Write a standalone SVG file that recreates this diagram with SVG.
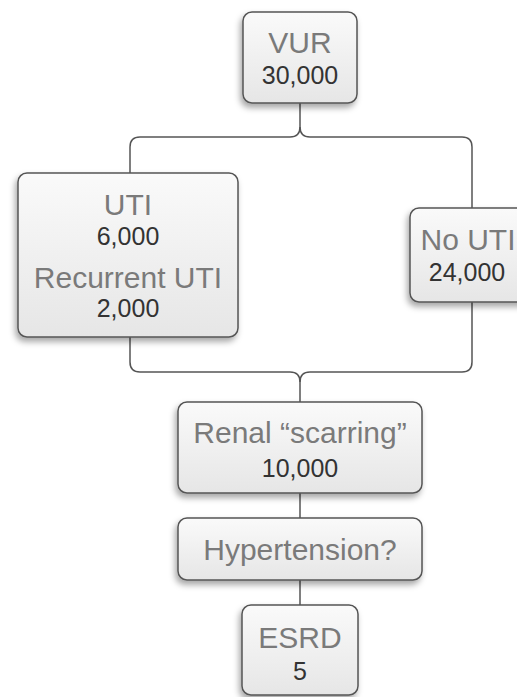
<svg xmlns="http://www.w3.org/2000/svg" width="517" height="697" viewBox="0 0 517 697">
<defs>
<linearGradient id="g" x1="0" y1="0" x2="0" y2="1">
<stop offset="0" stop-color="#fafafa"/>
<stop offset="1" stop-color="#e6e6e6"/>
</linearGradient>
<filter id="sh" x="-20%" y="-20%" width="140%" height="150%">
<feDropShadow dx="-2" dy="4" stdDeviation="3" flood-color="#000" flood-opacity="0.35"/>
</filter>
</defs>
<style>
.box{fill:url(#g);stroke:#555;stroke-width:1.5;filter:url(#sh)}
.lbl{font-family:"Liberation Sans",Arial,sans-serif;font-size:30px;fill:#7a7a7a;text-anchor:middle}
.num{font-family:"Liberation Sans",Arial,sans-serif;font-size:25px;fill:#333;text-anchor:middle}
.ln{fill:none;stroke:#555;stroke-width:1.5}
</style>
<rect width="517" height="697" fill="#fff"/>
<g id="connectors">
<path class="ln" d="M300,103 V127 Q300,137 290,137 H140 Q130,137 130,147 V173"/>
<path class="ln" d="M300,127 Q300,137 310,137 H462 Q472,137 472,147 V208"/>
<path class="ln" d="M130,337 V362 Q130,372 140,372 H290 Q300,372 300,382 V402"/>
<path class="ln" d="M472,302 V362 Q472,372 462,372 H310 Q300,372 300,382"/>
<path class="ln" d="M300,493 V518"/>
<path class="ln" d="M300,580 V605"/>
</g>
<g id="vur">
<rect class="box" x="243" y="12" width="114" height="91" rx="9"/>
<text class="lbl" x="300" y="53">VUR</text>
<text class="num" x="300" y="84">30,000</text>
</g>
<g id="uti">
<rect class="box" x="18" y="173" width="220" height="164" rx="9"/>
<text class="lbl" x="128" y="215">UTI</text>
<text class="num" x="128" y="245">6,000</text>
<text class="lbl" x="128" y="288">Recurrent UTI</text>
<text class="num" x="128" y="317">2,000</text>
</g>
<g id="nouti">
<rect class="box" x="410" y="208" width="125" height="94" rx="9"/>
<text class="lbl" x="468" y="250">No UTI</text>
<text class="num" x="467" y="281">24,000</text>
</g>
<g id="renal">
<rect class="box" x="178" y="402" width="244" height="91" rx="9"/>
<text class="lbl" x="300" y="443">Renal “scarring”</text>
<text class="num" x="300" y="477">10,000</text>
</g>
<g id="hypertension">
<rect class="box" x="178" y="518" width="244" height="62" rx="9"/>
<text class="lbl" x="300" y="560">Hypertension?</text>
</g>
<g id="esrd">
<rect class="box" x="242" y="605" width="116" height="90" rx="9"/>
<text class="lbl" x="300" y="648">ESRD</text>
<text class="num" x="300" y="680">5</text>
</g>
</svg>
